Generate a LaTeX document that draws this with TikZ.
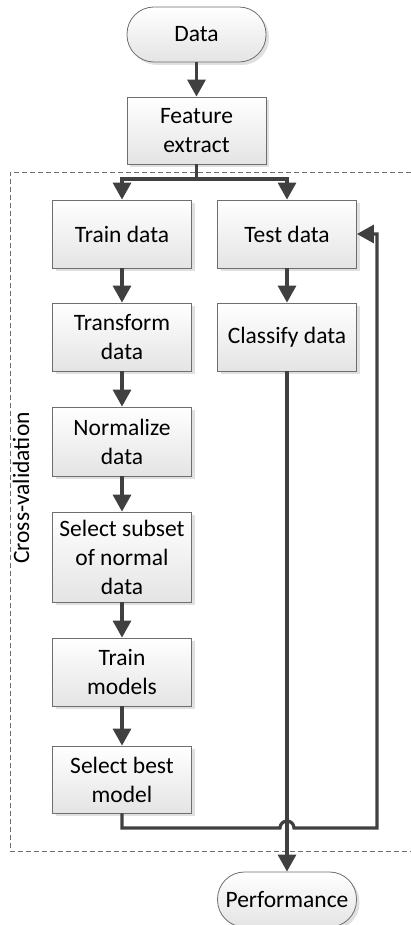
\documentclass[tikz,border=0pt]{standalone}
\usepackage{fontspec}
\setmainfont{Carlito}
\usetikzlibrary{arrows.meta,shadows}

\definecolor{linegray}{HTML}{404040}
\definecolor{edgegray}{HTML}{6E6E6E}
\definecolor{fillgray}{HTML}{E4E4E4}

\tikzset{
  stepbox/.style={rectangle, draw=edgegray, line width=0.8pt,
    top color=white, bottom color=fillgray,
    drop shadow={shadow xshift=3pt, shadow yshift=-3pt, fill=black!12, opacity=1},
    minimum width=139pt, minimum height=68pt, inner sep=2pt,
    align=center, font=\fontsize{23.5}{29}\selectfont},
  termbox/.style={stepbox, rounded corners=27pt, minimum height=55pt},
  flow/.style={draw=linegray, line width=3.2pt,
    -{Triangle[length=17pt,width=18pt]}},
  plainflow/.style={draw=linegray, line width=3.2pt},
}

\begin{document}
\begin{tikzpicture}[x=1pt,y=-1pt]
	\useasboundingbox (0,0) rectangle (411,925);
	%\draw[help lines] (0,0) grid[step=50] (411,925);
	\draw[edgegray, line width=0.9pt, dash pattern=on 5pt off 3pt]
		(411,172) -- (10,172) -- (10,851) -- (411,851);
	\node[rotate=90, font=\fontsize{23.5}{29}\selectfont] (cv) at (21,488) {Cross-validation};

	\node[termbox] (data) at (196.5,34.5) {Data};
	\node[stepbox, minimum height=67pt] (feat) at (196.5,130.5) {Feature\\extract};

	\node[stepbox] (train) at (122,234) {Train data};
	\node[stepbox] (transf) at (122,337) {Transform\\data};
	\node[stepbox, minimum height=69pt] (norm) at (122,441.5) {Normalize\\data};
	\node[stepbox, minimum height=90pt] (subset) at (122,557) {Select subset\\of normal\\data};
	\node[stepbox] (trmod) at (122,672) {Train\\models};
	\node[stepbox, minimum height=67pt] (best) at (122,779.5) {Select best\\model};

	\node[stepbox] (test) at (287,234) {Test data};
	\node[stepbox] (classify) at (287,337) {Classify data};

	\node[termbox] (perf) at (287,899.5) {Performance};

	\coordinate (split) at (196.5,179);
	\coordinate (back) at (377,828);

	\draw[flow] (data) -- (feat);
	\draw[plainflow] (feat) -- (split);
	\draw[flow] (split) -| (train);
	\draw[flow] (split) -| (test);

	\draw[flow] (train) -- (transf);
	\draw[flow] (transf) -- (norm);
	\draw[flow] (norm) -- (subset);
	\draw[flow] (subset) -- (trmod);
	\draw[flow] (trmod) -- (best);

	\draw[flow] (test) -- (classify);
	\draw[flow] (classify) -- (perf);

	% loop back, hopping over the line to perf
	\draw[flow] (best.south) |- (280,828) arc[start angle=180, end angle=0, radius=7pt]
		-- (back) |- (test.east);
\end{tikzpicture}
\end{document}
